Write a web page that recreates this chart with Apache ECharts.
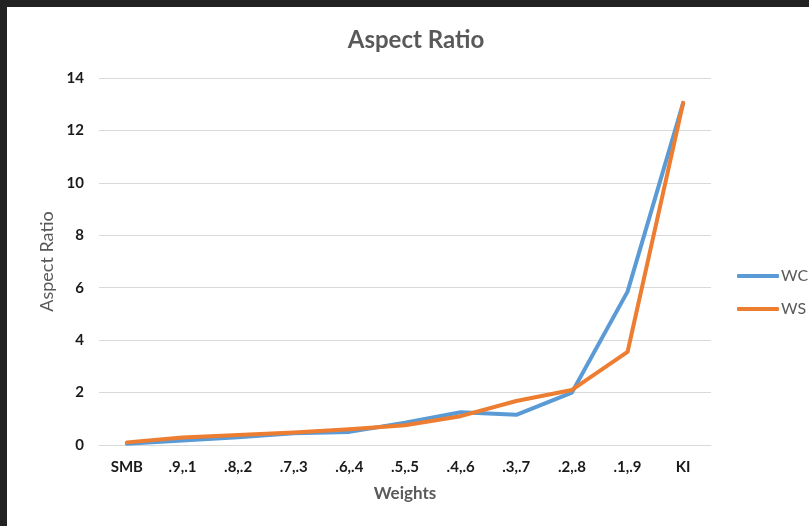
<!DOCTYPE html>
<html>
<head>
<meta charset="utf-8">
<script src="https://cdn.jsdelivr.net/npm/echarts@6/dist/echarts.min.js"></script>
<style>
  html, body { margin: 0; padding: 0; background: #222; }
  #frame {
    width: 809px; height: 526px; box-sizing: border-box;
    border-top: 7px solid #222; border-left: 7px solid #222;
    background: #fff;
  }
  #chart { width: 802px; height: 519px; }
</style>
</head>
<body>
<div id="frame"><div id="chart"></div></div>
<script>
// Weight settings along the x axis
const categories = ['SMB', '.9,.1', '.8,.2', '.7,.3', '.6,.4', '.5,.5', '.4,.6', '.3,.7', '.2,.8', '.1,.9', 'KI'];
// Aspect ratio per weight setting
const wcValues = [0.05, 0.17, 0.3, 0.45, 0.5, 0.85, 1.25, 1.15, 2.0, 5.85, 13.05];
const wsValues = [0.1, 0.29, 0.38, 0.48, 0.6, 0.75, 1.1, 1.68, 2.1, 3.55, 13.05];
const yTicks = { min: 0, max: 14, interval: 2 };

const font = 'Lato, "Open Sans", sans-serif';
const chart = echarts.init(document.getElementById('chart'));
chart.setOption({
  animation: false,
  title: {
    text: 'Aspect Ratio',
    left: 404,
    textAlign: 'center',
    top: 16,
    textStyle: { fontFamily: font, fontSize: 24, fontWeight: 'bold', color: '#595959' }
  },
  legend: {
    orient: 'vertical',
    left: 730,
    top: 261,
    padding: 0,
    itemWidth: 42,
    itemHeight: 4,
    itemGap: 17,
    icon: 'roundRect',
    textStyle: { fontFamily: font, fontSize: 16, color: '#595959', padding: [0, 0, 0, -3] },
    data: ['WC', 'WS']
  },
  grid: { left: 92, right: 98, top: 71, bottom: 81 },
  xAxis: {
    type: 'category',
    data: categories,
    boundaryGap: true,
    name: 'Weights',
    nameLocation: 'middle',
    nameGap: 40,
    nameTextStyle: { fontFamily: font, fontSize: 17, fontWeight: 'bold', color: '#595959' },
    axisLine: { lineStyle: { color: '#d9d9d9', width: 1 } },
    axisTick: { show: false },
    axisLabel: { fontFamily: font, fontSize: 15, fontWeight: 'bold', color: '#1a1a1a', margin: 15 }
  },
  yAxis: {
    type: 'value',
    min: yTicks.min,
    max: yTicks.max,
    interval: yTicks.interval,
    name: 'Aspect Ratio',
    nameLocation: 'middle',
    nameGap: 43,
    nameTextStyle: { fontFamily: font, fontSize: 18, color: '#595959' },
    axisLine: { show: false },
    axisTick: { show: false },
    axisLabel: { fontFamily: font, fontSize: 15, fontWeight: 'bold', color: '#1a1a1a', margin: 15 },
    splitLine: { lineStyle: { color: '#d9d9d9', width: 1 } }
  },
  series: [
    {
      name: 'WC', type: 'line', data: wcValues,
      symbol: 'none', color: '#5B9BD5',
      lineStyle: { width: 4, cap: 'round', join: 'round' }
    },
    {
      name: 'WS', type: 'line', data: wsValues,
      symbol: 'none', color: '#ED7D31',
      lineStyle: { width: 4, cap: 'round', join: 'round' }
    }
  ]
});
</script>
</body>
</html>
